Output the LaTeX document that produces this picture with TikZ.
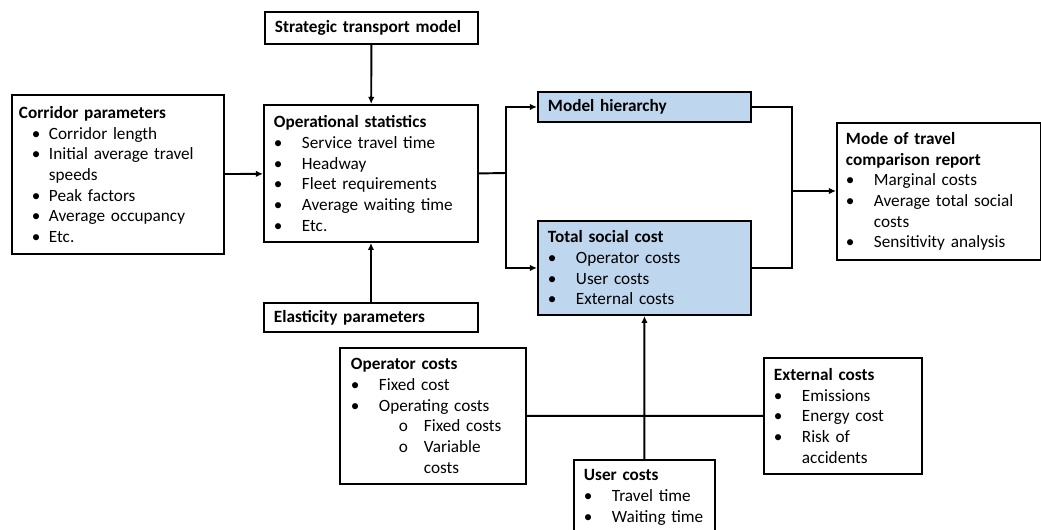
\documentclass[tikz,border=0pt]{standalone}
\usepackage{fontspec}
\setmainfont{Carlito}
\usetikzlibrary{arrows.meta}

\definecolor{costblue}{RGB}{190,215,238}
\newcommand{\boxfont}{\fontsize{9.8pt}{11.75pt}\selectfont}
% bullets for the lists in the boxes
\newcommand{\bul}{\makebox[0.56cm][l]{\textbullet}}
\newcommand{\subbul}{\hspace*{0.96cm}\makebox[0.5cm][l]{o}}
\newcommand{\cbul}{\hspace*{0.26cm}\makebox[0.34cm][l]{\textbullet}}

\begin{document}
\begin{tikzpicture}[x=0.02cm,y=-0.02cm]
	\tikzstyle{box}=[draw,rectangle,line width=1.1pt,anchor=north west,align=left,inner xsep=0.2cm,inner ysep=2pt,font=\boxfont]
	\tikzstyle{cost box}=[box,fill=costblue]
	\tikzstyle{edge}=[-,black,line width=1.1pt]
	\tikzstyle{arrow edge}=[edge,-{Latex[length=4pt,width=3.6pt]}]

	\useasboundingbox (0,0) rectangle (1041,530);
	\clip (0,0) rectangle (1041,530);

	% inputs
	\node[box,inner xsep=0.14cm,text width=3.96cm,minimum height=3.18cm] (corr) at (11,94)
		{\textbf{Corridor parameters}\\
		 \cbul Corridor length\\
		 \cbul Initial average travel\\
		 \hspace*{0.6cm}speeds\\
		 \cbul Peak factors\\
		 \cbul Average occupancy\\
		 \cbul Etc.};
	\node[box,text width=3.86cm,minimum height=0.64cm] (stm) at (264,11)
		{\textbf{Strategic transport model}};
	\node[box,text width=3.88cm,minimum height=2.74cm] (opstat) at (263,104)
		{\textbf{Operational statistics}\\
		 \bul Service travel time\\
		 \bul Headway\\
		 \bul Fleet requirements\\
		 \bul Average waiting time\\
		 \bul Etc.};
	\node[box,text width=3.88cm,minimum height=0.58cm] (elast) at (263,302)
		{\textbf{Elasticity parameters}};

	% models
	\node[cost box,text width=3.86cm,minimum height=0.6cm] (mh) at (537,91)
		{\textbf{Model hierarchy}};
	\node[cost box,text width=3.86cm,minimum height=1.88cm] (tsc) at (537,220)
		{\textbf{Total social cost}\\
		 \bul Operator costs\\
		 \bul User costs\\
		 \bul External costs};

	% output
	\node[box,inner xsep=0.18cm,text width=3.72cm,minimum height=2.74cm] (report) at (836,122)
		{\textbf{Mode of travel}\\
		 \textbf{comparison report}\\
		 \bul Marginal costs\\
		 \bul Average total social\\
		 \hspace*{0.56cm}costs\\
		 \bul Sensitivity analysis};

	% cost components
	\node[box,inner xsep=0.22cm,text width=3.28cm,minimum height=2.72cm] (opc) at (339,347)
		{\textbf{Operator costs}\\
		 \bul Fixed cost\\
		 \bul Operating costs\\
		 \subbul Fixed costs\\
		 \subbul Variable\\
		 \hspace*{1.46cm}costs};
	\node[box,text width=2.42cm,minimum height=1.5cm] (user) at (573,459)
		{\textbf{User costs}\\
		 \bul Travel time\\
		 \bul Waiting time};
	\node[box,text width=2.76cm,minimum height=2.32cm] (ext) at (763,357)
		{\textbf{External costs}\\
		 \bul Emissions\\
		 \bul Energy cost\\
		 \bul Risk of\\
		 \hspace*{0.56cm}accidents};

	\coordinate (split) at (506,173);
	\coordinate (merge) at (792,191);

	\draw[arrow edge] (stm) -- (opstat);
	\draw[arrow edge] (elast) -- (opstat);
	\draw[arrow edge] (corr) -- (opstat);
	\draw[edge] (opstat.east) -- (split);
	\draw[arrow edge] (split) |- (mh.west);
	\draw[arrow edge] (split) |- (tsc.west);
	\draw[edge] (mh.east) -| (merge);
	\draw[edge] (tsc.east) -| (merge);
	\draw[arrow edge] (merge) -- (merge -| report.west);
	\draw[edge] (opc.east) -- (ext.west);
	\draw[arrow edge] (user) -- (tsc);
\end{tikzpicture}
\end{document}
